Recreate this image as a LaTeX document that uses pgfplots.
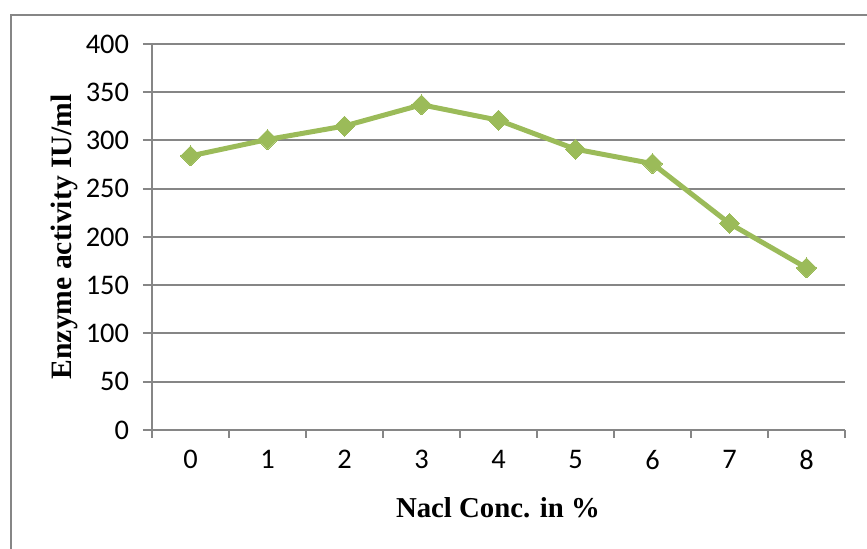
\documentclass[border=0pt]{standalone}
\usepackage{pgfplots}
\pgfplotsset{compat=1.18}
\usepackage{fontspec}
\setmainfont{Liberation Serif}
\newfontfamily\carlito{Carlito}
\definecolor{linegreen}{HTML}{9BBB59}
\definecolor{gridgray}{HTML}{868686}
\begin{document}
\begin{tikzpicture}[x=1pt,y=1pt]
\useasboundingbox (0,0) rectangle (433.5,274.5);
\draw[gridgray, line width=1pt] (5.5,-2) -- (5.5,267) -- (436,267);
\begin{axis}[
  at={(76pt,59.5pt)}, anchor=south west,
  width=346.5pt, height=193pt, scale only axis,
  xmin=-0.5, xmax=8.5, ymin=0, ymax=400,
  xtick={0,1,...,8},
  minor xtick={-0.5,0.5,...,8.5},
  ytick={0,50,...,400},
  axis x line*=bottom, axis y line*=left,
  tick align=outside,
  major tick length=4.5pt, minor tick length=4pt,
  every major x tick/.append style={draw=none},
  tick style={gridgray, line width=1pt},
  axis line style={gridgray, line width=1pt},
  ymajorgrids, grid style={gridgray, line width=1pt},
  /pgf/number format/assume math mode=true,
  ticklabel style={font=\carlito\fontsize{14.2}{14.2}\selectfont, text=black},
  yticklabel style={xshift=-3.5pt},
  xticklabel style={yshift=-2pt},
  clip=false,
]
\addplot[linegreen, line width=2.5pt, mark=square*, mark size=3.54pt,
  mark options={rotate=45, solid, fill=linegreen, draw=linegreen, line width=0pt}]
  coordinates {(0,284) (1,301) (2,315) (3,337) (4,321) (5,291) (6,276) (7,214) (8,168)};
\end{axis}
\node[anchor=base, font=\bfseries\fontsize{14.4}{14.4}\selectfont] at (249,15.5) {Nacl Conc. in \%};
\node[anchor=base, rotate=90, font=\bfseries\fontsize{14.8}{14.8}\selectfont] at (36,156) {Enzyme activity IU/ml};
\end{tikzpicture}
\end{document}
